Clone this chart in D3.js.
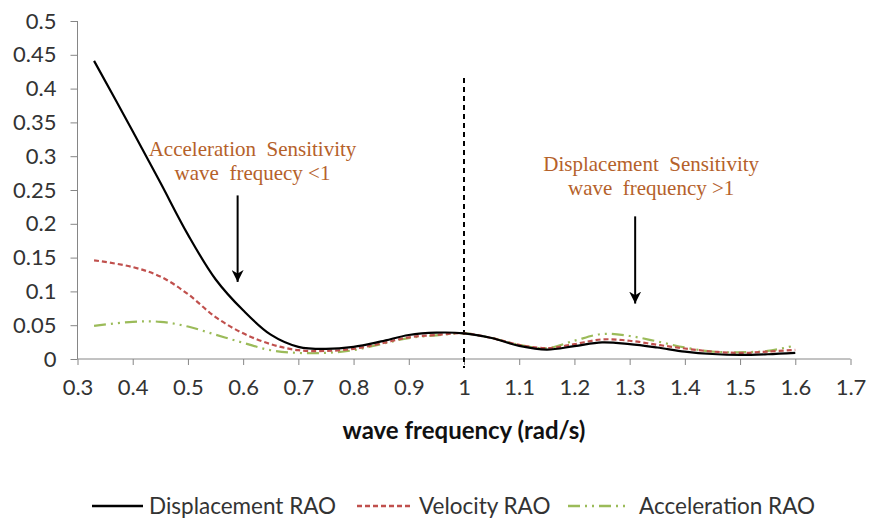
<!DOCTYPE html>
<html><head><meta charset="utf-8">
<script src="https://cdn.jsdelivr.net/npm/d3@7"></script>
<style>body{margin:0;background:#fff}</style>
</head><body>
<svg id="c" width="870" height="519"></svg>
<script>
const freq = [0.33,0.4,0.45,0.5,0.55,0.6,0.65,0.7,0.75,0.8,0.85,0.9,0.95,1.0,1.05,1.1,1.15,1.2,1.25,1.3,1.35,1.4,1.45,1.5,1.55,1.6];
const displacementRAO = [0.441,0.337,0.261,0.184,0.118,0.072,0.036,0.018,0.015,0.018,0.026,0.0355,0.039,0.038,0.031,0.0195,0.014,0.019,0.0245,0.022,0.017,0.011,0.0074,0.006,0.007,0.009];
const velocityRAO = [0.146,0.136,0.122,0.096,0.062,0.038,0.022,0.013,0.012,0.015,0.023,0.032,0.0355,0.038,0.031,0.021,0.016,0.022,0.029,0.027,0.021,0.0155,0.011,0.009,0.011,0.0135];
const accelerationRAO = [0.049,0.055,0.055,0.048,0.036,0.024,0.013,0.009,0.009,0.013,0.022,0.031,0.035,0.038,0.031,0.021,0.016,0.027,0.037,0.034,0.026,0.017,0.011,0.010,0.012,0.020];
const xTicks = [0.3,0.4,0.5,0.6,0.7,0.8,0.9,1,1.1,1.2,1.3,1.4,1.5,1.6,1.7];
const yTicks = [0,0.05,0.1,0.15,0.2,0.25,0.3,0.35,0.4,0.45,0.5];
const seriesNames = ["Displacement RAO","Velocity RAO","Acceleration RAO"];
const annotations = [
  {lines:["Acceleration  Sensitivity","wave  frequecy <1"], x:0.59, textX:0.617, arrowFrom:0.242, arrowTo:0.114, top:156},
  {lines:["Displacement  Sensitivity","wave  frequency >1"], x:1.31, textX:1.339, arrowFrom:0.211, arrowTo:0.082, top:171}
];

const svg = d3.select("#c");
const x = d3.scaleLinear().domain([0.3,1.7]).range([77.5,850.5]);
const y = d3.scaleLinear().domain([0,0.5]).range([359,21]);
const axisColor = "#868686";
const labelFont = "Lato, 'Open Sans', sans-serif";
const textColor = "#333";

// Y axis
const ya = svg.append("g").attr("transform","translate(77.5,0)")
  .call(d3.axisLeft(y).tickValues(yTicks).tickSize(7).tickPadding(14).tickFormat(d=>d3.format("")(+d.toFixed(2))));
ya.select(".domain").attr("stroke",axisColor).attr("d","M0,"+y(0.5)+"V"+y(0));
ya.selectAll(".tick line").attr("stroke",axisColor);
ya.selectAll(".tick text").attr("font-family",labelFont).attr("font-size",22).attr("fill",textColor);

// X axis
const xa = svg.append("g").attr("transform","translate(0,359)")
  .call(d3.axisBottom(x).tickValues(xTicks).tickSize(6).tickPadding(14).tickFormat(d=>d3.format("")(+d.toFixed(1))));
xa.select(".domain").attr("stroke",axisColor).attr("d","M"+x(0.3)+",0H"+x(1.7));
xa.selectAll(".tick line").attr("stroke",axisColor);
xa.selectAll(".tick text").attr("font-family",labelFont).attr("font-size",22).attr("fill",textColor);

svg.append("text").attr("x",464).attr("y",439).attr("text-anchor","middle")
  .attr("font-family",labelFont).attr("font-weight","bold").attr("font-size",24).attr("fill","#111")
  .text("wave frequency (rad/s)");

// Vertical dashed line at 1
svg.append("line").attr("x1",x(1)).attr("x2",x(1)).attr("y1",78).attr("y2",368)
  .attr("stroke","#000").attr("stroke-width",2).attr("stroke-dasharray","5,4");

const styles = [
  {data:displacementRAO, color:"#000", dash:null, w:2.2},
  {data:velocityRAO, color:"#C0504D", dash:"5,3", w:2.2},
  {data:accelerationRAO, color:"#9BBB59", dash:"12,5,2,5,2,5", w:2.2}
];
const line = d3.line().x(d=>x(d[0])).y(d=>y(d[1])).curve(d3.curveCatmullRom.alpha(0.5));
[2,1,0].forEach(i=>{
  const s = styles[i];
  svg.append("path").datum(freq.map((f,j)=>[f,s.data[j]]))
    .attr("d",line).attr("fill","none").attr("stroke",s.color)
    .attr("stroke-width",s.w).attr("stroke-dasharray",s.dash);
});

// Annotations
const defs = svg.append("defs");
defs.append("marker").attr("id","ah").attr("viewBox","0 0 10 10").attr("refX",10).attr("refY",5)
  .attr("markerWidth",6).attr("markerHeight",6).attr("markerUnits","strokeWidth").attr("orient","auto")
  .append("path").attr("d","M0,0L10,5L0,10L3,5Z").attr("fill","#000");
annotations.forEach(a=>{
  const cx = x(a.x), tx = x(a.textX);
  const t = svg.append("text").attr("text-anchor","middle").attr("font-family","'Liberation Serif', 'Times New Roman', serif")
    .attr("font-size",21).attr("fill","#B5612A");
  a.lines.forEach((l,i)=>t.append("tspan").attr("x",tx).attr("y",a.top+i*24).attr("xml:space","preserve").text(l));
  svg.append("line").attr("x1",cx).attr("x2",cx).attr("y1",y(a.arrowFrom)).attr("y2",y(a.arrowTo))
    .attr("stroke","#000").attr("stroke-width",2).attr("marker-end","url(#ah)");
});

// Legend
const legendItems = [
  {name:seriesNames[0], s:styles[0], x1:92, x2:143, tx:149},
  {name:seriesNames[1], s:styles[1], x1:357, x2:412, tx:419},
  {name:seriesNames[2], s:styles[2], x1:568, x2:630, tx:639}
];
legendItems.forEach(it=>{
  svg.append("line").attr("x1",it.x1).attr("x2",it.x2).attr("y1",506).attr("y2",506)
    .attr("stroke",it.s.color).attr("stroke-width",2.5).attr("stroke-dasharray",it.s.dash);
  svg.append("text").attr("x",it.tx).attr("y",514).attr("font-family",labelFont)
    .attr("font-size",22.5).attr("fill",textColor).text(it.name);
});
</script>
</body></html>
